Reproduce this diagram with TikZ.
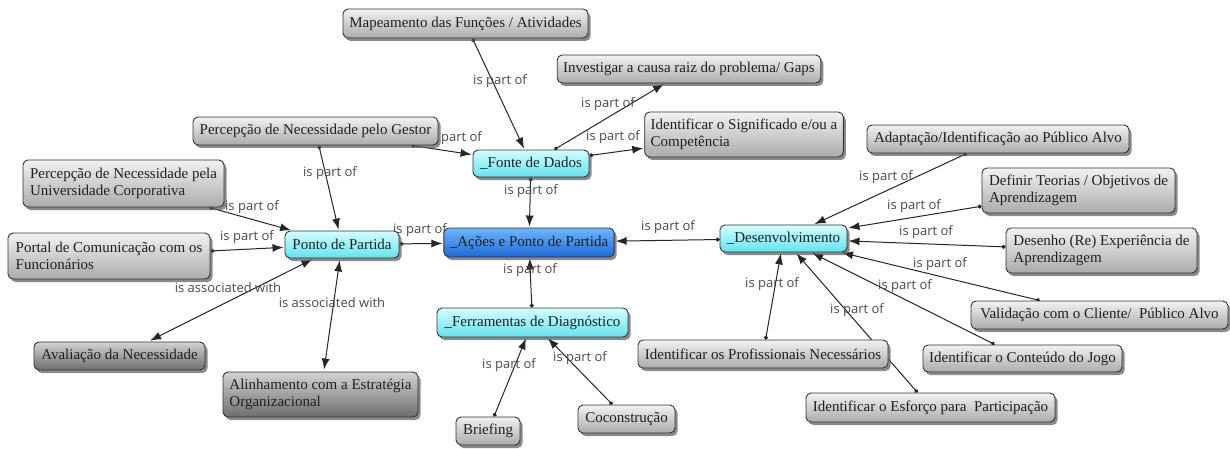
\documentclass[tikz,border=0pt]{standalone}
\usepackage{fontspec}
\setmainfont{Liberation Serif}
\newfontfamily\lblfont{Open Sans}
\usetikzlibrary{arrows.meta,shadows,backgrounds}

\definecolor{grayTop}{HTML}{F2F2F2}
\definecolor{grayBot}{HTML}{ABABAB}
\definecolor{darkTop}{HTML}{D2D2D2}
\definecolor{darkBot}{HTML}{6E6E6E}
\definecolor{cyanTop}{HTML}{D4FFFF}
\definecolor{cyanBot}{HTML}{62E2EE}
\definecolor{blueTop}{HTML}{6EB6FF}
\definecolor{blueBot}{HTML}{1C6AD8}
\definecolor{lblGray}{HTML}{4A4A4A}

\begin{document}
\begin{tikzpicture}[x=1pt,y=-1pt,
  box/.style={rounded corners=5pt, draw=black!80, line width=0.9pt,
    font=\fontsize{15}{17}\selectfont, align=left, inner xsep=6pt, inner ysep=3pt,
    text=black!88,
    drop shadow={shadow xshift=2.5pt, shadow yshift=-3pt, fill=black!65, opacity=0.7}},
  graybox/.style={box, top color=grayTop, bottom color=grayBot},
  darkbox/.style={box, top color=darkTop, bottom color=darkBot},
  cyanbox/.style={box, top color=cyanTop, bottom color=cyanBot},
  bluebox/.style={box, top color=blueTop, bottom color=blueBot},
  lbl/.style={font=\lblfont\fontsize{13}{15}\selectfont, text=lblGray, inner sep=0pt},
  conn/.style={draw=black!85, line width=1pt,
    {Circle[length=4pt]}-{Latex[length=11pt,width=8pt]}, shorten >=1pt},
  assoc/.style={draw=black!85, line width=1pt,
    {Latex[length=11pt,width=8pt]}-{Latex[length=11pt,width=8pt]},
    shorten >=2pt, shorten <=2pt},
]
\useasboundingbox (0,0) rectangle (1230,449);

% concepts
\node[graybox, minimum width=245pt, minimum height=29pt] (map) at (465.5,23.5) {Mapeamento das Funções / Atividades};
\node[graybox, minimum width=258pt, minimum height=28pt] (inv) at (689,69) {Investigar a causa raiz do problema/ Gaps};
\node[graybox, minimum width=198pt, minimum height=45pt] (sig) at (744,134.5) {Identificar o Significado e/ou a\\Competência};
\node[graybox, minimum width=245pt, minimum height=28pt] (gestor) at (315.5,131) {Percepção de Necessidade pelo Gestor};
\node[cyanbox, minimum width=116pt, minimum height=27pt] (fonte) at (531,163.5) {\_Fonte de Dados};
\node[graybox, minimum width=201pt, minimum height=47pt] (univ) at (123.5,183.5) {Percepção de Necessidade pela\\Universidade Corporativa};
\node[cyanbox, minimum width=114pt, minimum height=27pt] (ponto) at (342,244.5) {Ponto de Partida};
\node[bluebox, minimum width=168pt, minimum height=29pt] (acoes) at (529,242.5) {\_Ações e Ponto de Partida};
\node[graybox, minimum width=202pt, minimum height=46pt] (portal) at (109,256) {Portal de Comunicação com os\\Funcionários};
\node[darkbox, minimum width=171pt, minimum height=28pt] (aval) at (119.5,356) {Avaliação da Necessidade};
\node[darkbox, minimum width=195pt, minimum height=45pt] (alin) at (320.5,394.5) {Alinhamento com a Estratégia\\Organizacional};
\node[cyanbox, minimum width=191pt, minimum height=29pt] (ferr) at (532.5,322.5) {\_Ferramentas de Diagnóstico};
\node[graybox, minimum width=64pt, minimum height=28pt] (brief) at (488,431) {Briefing};
\node[graybox, minimum width=97pt, minimum height=28pt] (cocon) at (626.5,419) {Coconstrução};
\node[cyanbox, minimum width=127pt, minimum height=27pt] (desenv) at (783.5,238.5) {\_Desenvolvimento};
\node[graybox, minimum width=262pt, minimum height=28pt] (adapt) at (998,139) {Adaptação/Identificação ao Público Alvo};
\node[graybox, minimum width=193pt, minimum height=45pt] (def) at (1078.5,190.5) {Definir Teorias / Objetivos de\\Aprendizagem};
\node[graybox, minimum width=191pt, minimum height=45pt] (desenho) at (1101.5,250.5) {Desenho (Re) Experiência de\\Aprendizagem};
\node[graybox, minimum width=257pt, minimum height=28pt] (valid) at (1099.5,315) {Validação com o Cliente/\ \ Público Alvo};
\node[graybox, minimum width=199pt, minimum height=27pt] (conteudo) at (1022.5,358.5) {Identificar o Conteúdo do Jogo};
\node[graybox, minimum width=250pt, minimum height=28pt] (prof) at (763,354) {Identificar os Profissionais Necessários};
\node[graybox, minimum width=249pt, minimum height=29pt] (esforco) at (930.5,407.5) {Identificar o Esforço para\ \ Participação};

\begin{pgfonlayer}{background}
  \fill[white] (0,0) rectangle (1230,449);

  % links
  \draw[conn] (map) -- (fonte);
  \draw[conn] (fonte) -- (inv);
  \draw[conn] (fonte) -- (sig);
  \draw[conn] (gestor) -- (fonte);
  \draw[conn] (fonte) -- (acoes);
  \draw[conn] (gestor) -- (ponto);
  \draw[conn] (univ) -- (ponto);
  \draw[conn] (portal) -- (ponto);
  \draw[conn] (ponto) -- (acoes);
  \draw[assoc] (ponto) -- (aval);
  \draw[assoc] (ponto) -- (alin);
  \draw[conn] (ferr) -- (acoes);
  \draw[conn] (brief) -- (ferr);
  \draw[conn] (cocon) -- (ferr);
  \draw[conn] (desenv) -- (acoes);
  \draw[conn] (adapt) -- (desenv);
  \draw[conn] (def) -- (desenv);
  \draw[conn] (desenho) -- (desenv);
  \draw[conn] (valid) -- (desenv);
  \draw[conn] (conteudo) -- (desenv);
  \draw[conn] (esforco) -- (desenv);
  \draw[conn] (prof) -- (desenv);

  % link labels
  \node[lbl] (l1) at (500,81) {is part of};
  \node[lbl] (l2) at (608,104) {is part of};
  \node[lbl] (l3) at (613,137) {is part of};
  \node[lbl] (l4) at (455,138) {is part of};
  \node[lbl] (l5) at (531,191) {is part of};
  \node[lbl] (l6) at (330,173) {is part of};
  \node[lbl] (l7) at (252,207) {is part of};
  \node[lbl] (l8) at (247,237) {is part of};
  \node[lbl] (l9) at (420,230) {is part of};
  \node[lbl] (l10) at (228,288) {is associated with};
  \node[lbl] (l11) at (332,303) {is associated with};
  \node[lbl] (l12) at (530,270) {is part of};
  \node[lbl] (l13) at (509,365) {is part of};
  \node[lbl] (l14) at (580,358) {is part of};
  \node[lbl] (l15) at (668,227) {is part of};
  \node[lbl] (l16) at (886,177) {is part of};
  \node[lbl] (l17) at (914,206) {is part of};
  \node[lbl] (l18) at (926,232) {is part of};
  \node[lbl] (l19) at (940,264) {is part of};
  \node[lbl] (l20) at (905,286) {is part of};
  \node[lbl] (l21) at (857,310) {is part of};
  \node[lbl] (l22) at (772,284) {is part of};
\end{pgfonlayer}
\end{tikzpicture}
\end{document}
